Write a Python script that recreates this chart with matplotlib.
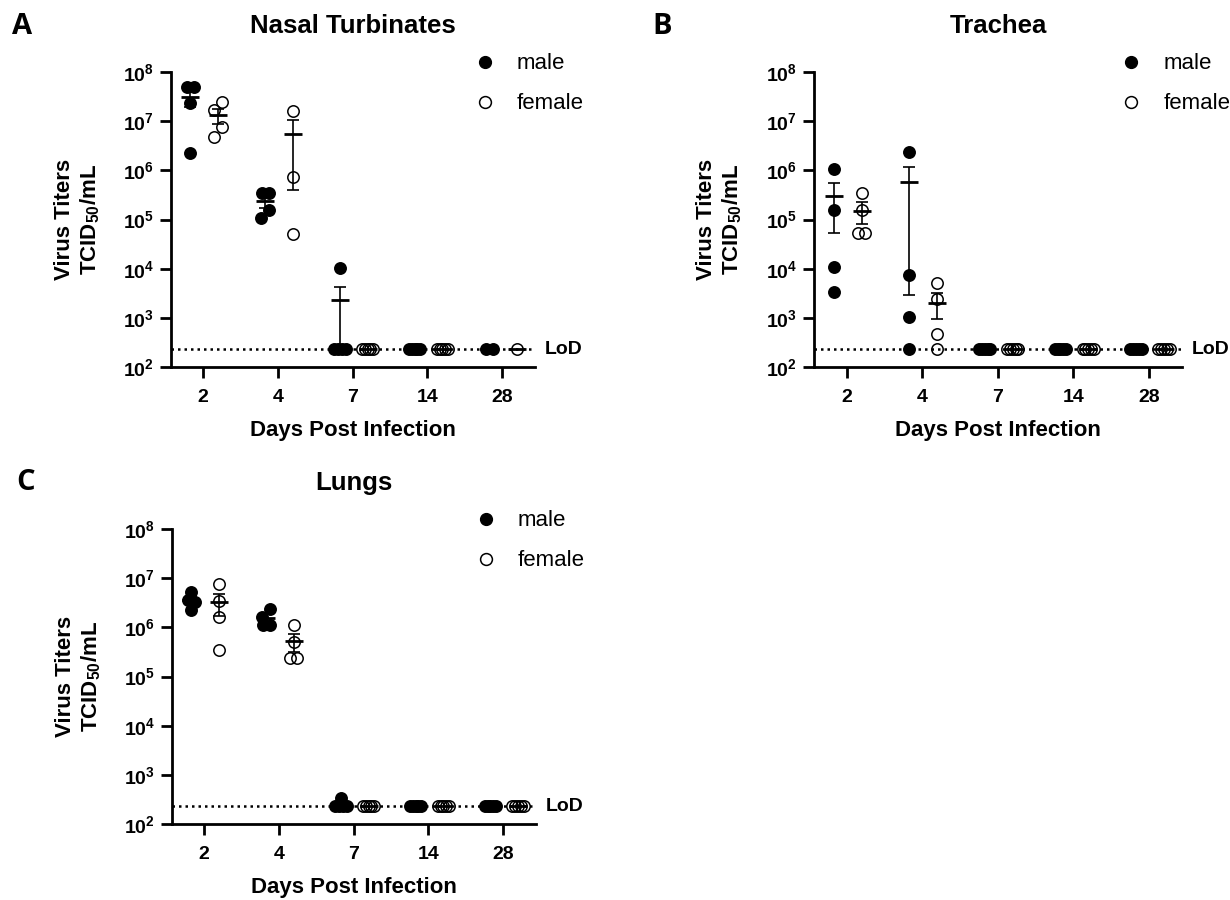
import matplotlib
matplotlib.use("Agg")
import matplotlib.pyplot as plt
import matplotlib.transforms as mtransforms
from matplotlib.lines import Line2D
import numpy as np

plt.rcParams["font.family"] = ["Liberation Sans", "DejaVu Sans"]
plt.rcParams["mathtext.fontset"] = "custom"
plt.rcParams["mathtext.rm"] = "Liberation Sans"
plt.rcParams["mathtext.bf"] = "Liberation Sans:bold"
plt.rcParams["mathtext.it"] = "Liberation Sans:italic"

LOD = 230
DAYS = ["2", "4", "7", "14", "28"]
Y_TICKS = [1e2, 1e3, 1e4, 1e5, 1e6, 1e7, 1e8]
Y_TICK_LABELS = [r"$\mathbf{10^{%d}}$" % k for k in range(2, 9)]

# virus titers (TCID50/mL) per day
NASAL_MALE = [
    [5.0e7, 5.0e7, 2.3e7, 2.3e6],
    [3.4e5, 3.4e5, 1.55e5, 1.05e5],
    [1.05e4, LOD, LOD, LOD, LOD],
    [LOD, LOD, LOD, LOD, LOD],
    [LOD, LOD],
]
NASAL_FEMALE = [
    [2.4e7, 1.65e7, 7.6e6, 4.8e6],
    [1.6e7, 7.4e5, 5.0e4],
    [LOD, LOD, LOD, LOD, LOD],
    [LOD, LOD, LOD, LOD, LOD],
    [LOD],
]
TRACHEA_MALE = [
    [1.05e6, 1.55e5, 1.1e4, 3.3e3],
    [2.36e6, 7.4e3, 1.05e3, LOD],
    [LOD, LOD, LOD, LOD, LOD],
    [LOD, LOD, LOD, LOD, LOD],
    [LOD, LOD, LOD, LOD, LOD],
]
TRACHEA_FEMALE = [
    [3.5e5, 1.55e5, 5.2e4, 5.2e4],
    [5.0e3, 2.46e3, 4.8e2, LOD],
    [LOD, LOD, LOD, LOD, LOD],
    [LOD, LOD, LOD, LOD, LOD],
    [LOD, LOD, LOD, LOD, LOD],
]
LUNGS_MALE = [
    [5.3e6, 3.6e6, 3.3e6, 2.3e6],
    [2.4e6, 1.65e6, 1.12e6, 1.12e6],
    [3.4e2, LOD, LOD, LOD, LOD],
    [LOD, LOD, LOD, LOD, LOD],
    [LOD, LOD, LOD, LOD, LOD],
]
LUNGS_FEMALE = [
    [7.5e6, 3.46e6, 1.65e6, 3.45e5],
    [1.12e6, 5.1e5, 2.34e5, 2.34e5],
    [LOD, LOD, LOD, LOD, LOD],
    [LOD, LOD, LOD, LOD, LOD],
    [LOD, LOD, LOD, LOD, LOD],
]

MALE_SHIFT = -0.17
FEMALE_SHIFT = 0.2


def swarm_offsets(values):
    logs = np.log10(np.asarray(values, dtype=float))
    order = np.argsort(-logs)
    groups = []
    for idx in order:
        if groups and abs(logs[groups[-1][-1]] - logs[idx]) < 0.1:
            groups[-1].append(idx)
        else:
            groups.append([idx])
    offsets = np.zeros(len(logs))
    last_single = None
    for g in groups:
        if len(g) > 1:
            span = min(0.09 * (len(g) - 1), 0.15)
            offsets[g] = np.linspace(-span / 2, span / 2, len(g))
            last_single = None
            continue
        i = g[0]
        if last_single is not None and logs[last_single] - logs[i] < 0.25:
            if offsets[last_single] == 0:
                offsets[last_single] = 0.05
            offsets[i] = -offsets[last_single]
        last_single = i
    return offsets


def draw_group(ax, xc, values, filled):
    vals = np.asarray(values, dtype=float)
    xs = xc + swarm_offsets(vals)
    ax.plot(xs, vals, "o", ms=8.2, mec="black", mew=1.1,
            mfc="black" if filled else "none", zorder=3, clip_on=False)
    mean = vals.mean()
    ax.hlines(mean, xc - 0.12, xc + 0.12, color="black", lw=2, zorder=4)
    if len(vals) > 1:
        sem = vals.std(ddof=1) / np.sqrt(len(vals))
        if sem > 0:
            lo = max(mean - sem, 1.0)
            ax.errorbar(xc, mean, yerr=[[mean - lo], [sem]], fmt="none", ecolor="black",
                        elinewidth=1.2, capsize=4, capthick=1.2, zorder=4)


def draw_panel(ax, title, male, female):
    for i in range(len(DAYS)):
        draw_group(ax, i + MALE_SHIFT, male[i], True)
        draw_group(ax, i + FEMALE_SHIFT, female[i], False)

    ax.set_yscale("log")
    ax.set_ylim(1e2, 1e8)
    ax.set_xlim(-0.43, 4.44)
    ax.set_yticks(Y_TICKS)
    ax.set_yticklabels(Y_TICK_LABELS)
    ax.yaxis.set_minor_locator(matplotlib.ticker.NullLocator())
    ax.set_xticks(range(len(DAYS)))
    ax.set_xticklabels(DAYS, fontweight="bold")
    ax.tick_params(axis="both", direction="out", length=8, width=2, labelsize=14)
    ax.tick_params(axis="x", pad=8)
    ax.tick_params(axis="y", pad=4)
    for side in ["top", "right"]:
        ax.spines[side].set_visible(False)
    for side in ["left", "bottom"]:
        ax.spines[side].set_linewidth(2)

    ax.axhline(LOD, color="black", ls=(0, (1, 1.6)), lw=1.8, zorder=2)
    trans = mtransforms.blended_transform_factory(ax.transAxes, ax.transData)
    ax.text(1.027, LOD, "LoD", transform=trans, ha="left", va="center",
            fontsize=14, fontweight="bold")

    ax.set_title(title, fontsize=18.5, fontweight="bold", pad=28)
    ax.set_xlabel("Days Post Infection", fontsize=16, fontweight="bold", labelpad=10)
    ax.set_ylabel("Virus Titers\nTCID$_{\\mathbf{50}}$/mL", fontsize=16, fontweight="bold")
    ax.yaxis.set_label_coords(-0.19, 0.5)

    handles = [
        Line2D([], [], ls="none", marker="o", ms=8.5, mfc="black", mec="black"),
        Line2D([], [], ls="none", marker="o", ms=8.5, mfc="none", mec="black", mew=1.1),
    ]
    ax.legend(handles, ["male", "female"], loc="upper left", bbox_to_anchor=(0.832, 1.063),
              frameon=False, fontsize=16, handlelength=1.0, handletextpad=0.94,
              labelspacing=0.85, borderpad=0, borderaxespad=0)


def main() -> None:
    fig = plt.figure(figsize=(12.3, 9), dpi=100)
    ax_a = fig.add_axes([0.139, 0.5922, 0.296, 0.3278])
    ax_b = fig.add_axes([0.6618, 0.5922, 0.2992, 0.3278])
    ax_c = fig.add_axes([0.1398, 0.0844, 0.296, 0.3278])

    draw_panel(ax_a, "Nasal Turbinates", NASAL_MALE, NASAL_FEMALE)
    draw_panel(ax_b, "Trachea", TRACHEA_MALE, TRACHEA_FEMALE)
    draw_panel(ax_c, "Lungs", LUNGS_MALE, LUNGS_FEMALE)

    letter_font = dict(fontsize=21, fontweight="bold", family=["Open Sans", "DejaVu Sans"], va="top")
    fig.text(0.010, 0.987, "A", **letter_font)
    fig.text(0.530, 0.987, "B", **letter_font)
    fig.text(0.013, 0.480, "C", **letter_font)

    fig.savefig("out.png", dpi=100)
    plt.close(fig)


if __name__ == "__main__":
    main()
